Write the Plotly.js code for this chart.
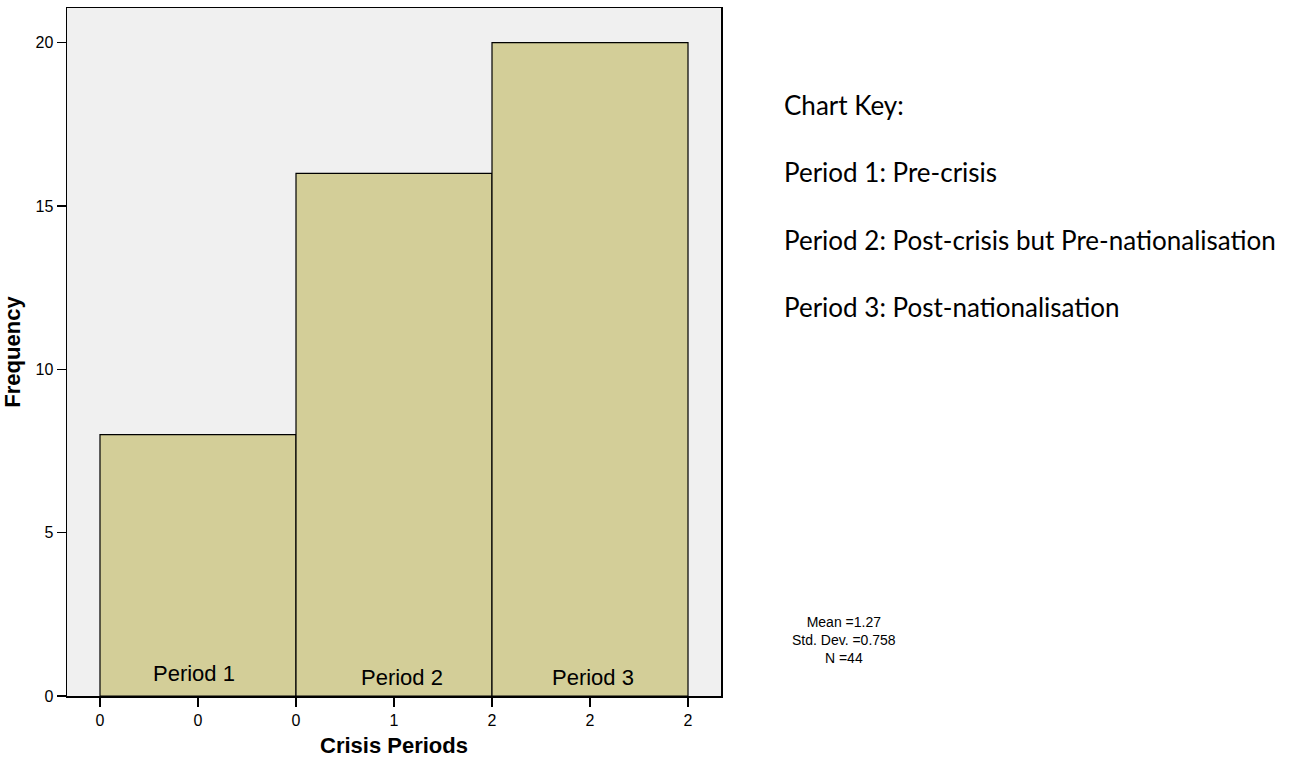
<!DOCTYPE html>
<html>
<head>
<meta charset="utf-8">
<script src="https://cdn.plot.ly/plotly-3.0.1.min.js"></script>
<style>html,body{margin:0;padding:0;background:#fff;}#chart{width:1311px;height:765px;}</style>
</head>
<body>
<div id="chart"></div>
<script>
// ---- data ----
const categories = ["Period 1", "Period 2", "Period 3"];
const frequencies = [8, 16, 20];
const binEdges = [0, 2/3, 4/3, 2];
const xTickVals = [0, 1/3, 2/3, 1, 4/3, 5/3, 2];
const xTickText = ["0", "0", "0", "1", "2", "2", "2"];
const yTickVals = [0, 5, 10, 15, 20];
const keyTitle = "Chart Key:";
const keyLines = [
  "Period 1: Pre-crisis",
  "Period 2: Post-crisis but Pre-nationalisation",
  "Period 3: Post-nationalisation"
];
const statsLines = ["Mean =1.27", "Std. Dev. =0.758", "N =44"];

// ---- layout helpers ----
const W = 1311, H = 765;
const M = {l: 67, r: 590, t: 8, b: 69};
const PW = W - M.l - M.r, PH = H - M.t - M.b;
const pxX = p => (p - M.l) / PW;
const pxY = p => 1 - (p - M.t) / PH;

const centers = categories.map((c, i) => (binEdges[i] + binEdges[i + 1]) / 2);
const widths = categories.map((c, i) => binEdges[i + 1] - binEdges[i]);

const trace = {
  type: 'bar',
  x: centers,
  y: frequencies,
  width: widths,
  marker: {color: '#d3ce98', line: {color: '#000', width: 1.2}},
  hoverinfo: 'skip'
};

const labelShiftX = [-4, 8, 3];
const labelShiftY = [23, 19, 19];
const annotations = [];
categories.forEach((c, i) => {
  annotations.push({
    text: c, x: centers[i], y: 0, xref: 'x', yref: 'y',
    xanchor: 'center', yanchor: 'middle', showarrow: false,
    xshift: labelShiftX[i], yshift: labelShiftY[i],
    font: {family: 'Liberation Sans, Arial, sans-serif', size: 22, color: '#000'}
  });
});

const keyFont = {family: 'Lato, sans-serif', size: 26, color: '#000'};
annotations.push({text: keyTitle, x: pxX(782), y: pxY(105), xref: 'paper', yref: 'paper',
  xanchor: 'left', yanchor: 'middle', showarrow: false, font: keyFont});
const keyY = [172, 240, 307];
keyLines.forEach((t, i) => {
  annotations.push({text: t, x: pxX(782), y: pxY(keyY[i]), xref: 'paper', yref: 'paper',
    xanchor: 'left', yanchor: 'middle', showarrow: false, font: keyFont});
});

// statistics block as one multi-line text
annotations.push({text: statsLines.join('<br>'), x: pxX(844), y: pxY(640), xref: 'paper', yref: 'paper',
  xanchor: 'center', yanchor: 'middle', align: 'center', showarrow: false,
  font: {family: 'Liberation Sans, Arial, sans-serif', size: 14, color: '#000'}});

const axisFont = {family: 'Liberation Sans, Arial, sans-serif', size: 16, color: '#000'};
const layout = {
  width: W, height: H,
  margin: M,
  paper_bgcolor: '#ffffff',
  plot_bgcolor: '#f0f0f0',
  showlegend: false,
  bargap: 0,
  xaxis: {
    range: [-0.1122, 2.1122],
    tickvals: xTickVals, ticktext: xTickText,
    ticks: 'outside', ticklen: 9, tickwidth: 1.5, tickcolor: '#000',
    showline: true, mirror: true, linecolor: '#000', linewidth: 1.5,
    showgrid: false, zeroline: false,
    tickfont: axisFont,
    title: {text: '<b>Crisis Periods</b>', font: {family: 'Liberation Sans, Arial, sans-serif', size: 22, color: '#000'}, standoff: 10},
    fixedrange: true
  },
  yaxis: {
    range: [0, 21.06],
    tickvals: yTickVals,
    ticks: 'outside', ticklen: 9, tickwidth: 1.5, tickcolor: '#000',
    showline: true, mirror: true, linecolor: '#000', linewidth: 1.5,
    showgrid: false, zeroline: false,
    tickfont: axisFont,
    title: {text: '<b>Frequency</b>', font: {family: 'Liberation Sans, Arial, sans-serif', size: 22, color: '#000'}, standoff: 12},
    fixedrange: true
  },
  annotations: annotations
};

Plotly.newPlot('chart', [trace], layout, {displayModeBar: false, staticPlot: true});
</script>
</body>
</html>
